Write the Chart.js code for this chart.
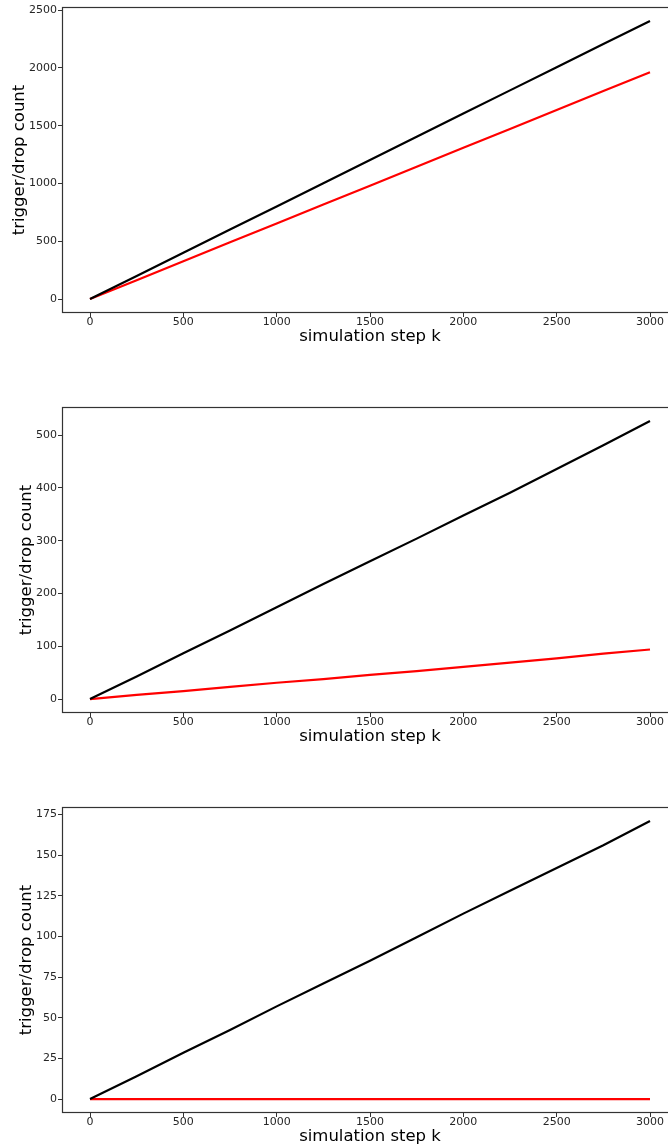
<!DOCTYPE html>
<html lang="en">
<head>
    <meta charset="UTF-8">
    <title>trigger/drop count</title>
    <script src="https://cdn.jsdelivr.net/npm/chart.js@4.4.1/dist/chart.umd.min.js"></script>
    <style>
        html, body { margin: 0; padding: 0; background: #fff; }
        body { width: 668px; height: 1146px; overflow: hidden; position: relative; }
        .panel { position: absolute; left: 0; width: 680px; height: 350px; }
    </style>
</head>
<body>
    <div class="panel" style="top:0"><canvas id="c1" width="680" height="350"></canvas></div>
    <div class="panel" style="top:400px"><canvas id="c2" width="680" height="350"></canvas></div>
    <div class="panel" style="top:800px"><canvas id="c3" width="680" height="350"></canvas></div>

    <script>
        // simulation steps where the counters were sampled
        const steps = [0, 250, 500, 750, 1000, 1250, 1500, 1750, 2000, 2250, 2500, 2750, 3000];
        const xTicks = [0, 500, 1000, 1500, 2000, 2500, 3000];

        // run 1
        const trig1 = [0, 200, 401, 602, 802, 1003, 1204, 1404, 1605, 1806, 2006, 2207, 2407];
        const drop1 = [0, 163, 327, 491, 654, 818, 981, 1145, 1309, 1472, 1636, 1800, 1963];
        const yTicks1 = [0, 500, 1000, 1500, 2000, 2500];

        // run 2
        const trig2 = [0, 43, 87, 130, 174, 218, 261, 304, 348, 391, 436, 481, 527];
        const drop2 = [0, 8, 15, 23, 31, 38, 46, 53, 61, 69, 77, 86, 94];
        const yTicks2 = [0, 100, 200, 300, 400, 500];

        // run 3
        const trig3 = [0, 14, 28.5, 42.5, 57, 71, 85, 99.5, 114, 128, 142, 156, 171];
        const drop3 = [0, 0, 0, 0, 0, 0, 0, 0, 0, 0, 0, 0, 0];
        const yTicks3 = [0, 25, 50, 75, 100, 125, 150, 175];

        const FONT = "'DejaVu Sans', sans-serif";
        const INK = '#262626';

        // box around the plot area, like matplotlib spines
        const framePlugin = {
            id: 'frame',
            afterDraw(chart) {
                const a = chart.chartArea;
                const ctx = chart.ctx;
                ctx.save();
                ctx.strokeStyle = '#333';
                ctx.lineWidth = 1.2;
                ctx.strokeRect(a.left + 0.5, a.top + 0.5, a.right - a.left - 1, a.bottom - a.top - 1);
                ctx.restore();
            }
        };

        function pts(ys) {
            return steps.map((k, i) => ({ x: k, y: ys[i] }));
        }

        const plain = v => String(v);

        function makeChart(id, trig, drop, yTicks, yTitlePad) {
            const all = trig.concat(drop);
            const lo = Math.min(...all), hi = Math.max(...all);
            const margin = (hi - lo) * 0.05;
            const xMargin = (steps[steps.length - 1] - steps[0]) * 0.05;

            return new Chart(document.getElementById(id), {
                type: 'line',
                data: {
                    datasets: [
                        { data: pts(trig), borderColor: '#000', borderWidth: 2.2 },
                        { data: pts(drop), borderColor: '#ff0000', borderWidth: 2.2 }
                    ]
                },
                options: {
                    responsive: false,
                    animation: false,
                    events: [],
                    layout: { padding: { top: 7, right: 2, left: 0, bottom: 0 } },
                    elements: { point: { radius: 0 }, line: { tension: 0, borderCapStyle: 'butt' } },
                    plugins: { legend: { display: false }, tooltip: { enabled: false } },
                    scales: {
                        x: {
                            type: 'linear',
                            min: steps[0] - xMargin,
                            max: steps[steps.length - 1] + xMargin,
                            afterBuildTicks: s => { s.ticks = xTicks.map(v => ({ value: v })); },
                            afterFit: s => { s.height = 37; },
                            border: { display: false },
                            grid: { drawOnChartArea: false, drawTicks: true, tickLength: 4, color: '#333', lineWidth: 1 },
                            ticks: { color: INK, padding: 0, maxRotation: 0, callback: plain, font: { family: FONT, size: 11, lineHeight: 1 } },
                            title: {
                                display: true, text: 'simulation step k', color: '#000',
                                padding: { top: 0, bottom: 3.6 },
                                font: { family: FONT, size: 16.5 }
                            }
                        },
                        y: {
                            min: lo - margin,
                            max: hi + margin,
                            afterBuildTicks: s => { s.ticks = yTicks.map(v => ({ value: v })); },
                            afterFit: s => { s.width = 62; },
                            border: { display: false },
                            grid: { drawOnChartArea: false, drawTicks: true, tickLength: 4, color: '#333', lineWidth: 1 },
                            ticks: { color: INK, padding: 1, callback: plain, font: { family: FONT, size: 11, lineHeight: 1 } },
                            title: {
                                display: true, text: 'trigger/drop count', color: '#000',
                                padding: { top: yTitlePad, bottom: 0 },
                                font: { family: FONT, size: 16.5 }
                            }
                        }
                    }
                },
                plugins: [framePlugin]
            });
        }

        makeChart('c1', trig1, drop1, yTicks1, 9.6);
        makeChart('c2', trig2, drop2, yTicks2, 16.6);
        makeChart('c3', trig3, drop3, yTicks3, 16.4);
    </script>
</body>
</html>
